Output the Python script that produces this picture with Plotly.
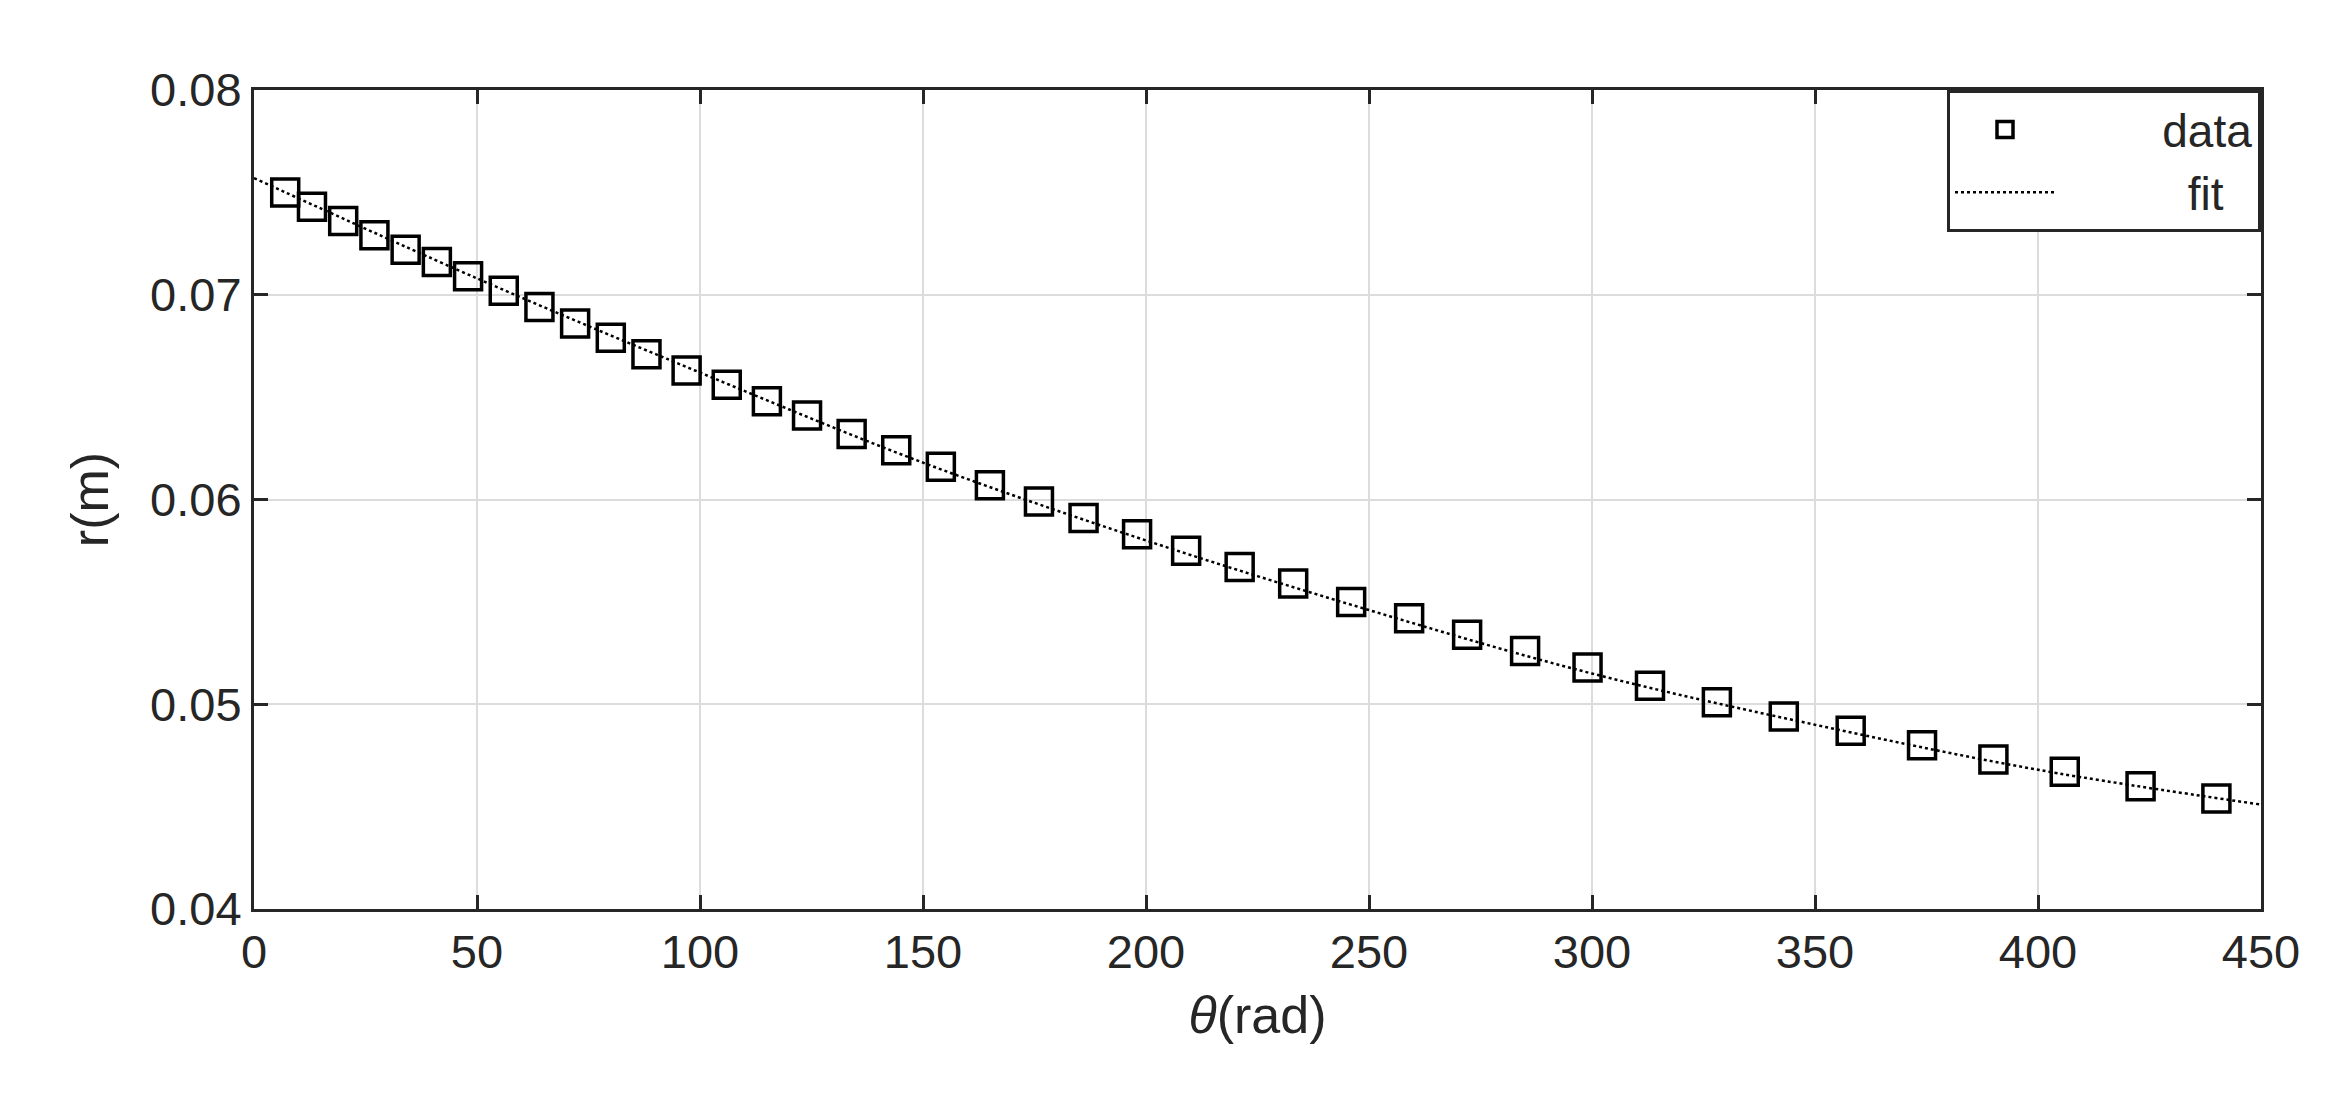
import plotly.graph_objects as go

theta = [7, 13, 20, 27, 34, 41, 48, 56, 64, 72, 80, 88, 97, 106, 115, 124, 134, 144, 154, 165,
         176, 186, 198, 209, 221, 233, 246, 259, 272, 285, 299, 313, 328, 343, 358, 374, 390, 406, 423, 440]
r = [0.0750, 0.0743, 0.0736, 0.0729, 0.0722, 0.0716, 0.0709, 0.0702, 0.0694, 0.0686,
     0.0679, 0.0671, 0.0663, 0.0656, 0.0648, 0.0641, 0.0632, 0.0624, 0.0616, 0.0607,
     0.0599, 0.0591, 0.0583, 0.0575, 0.0567, 0.0559, 0.0550, 0.0542, 0.0534, 0.0526,
     0.0518, 0.0509, 0.0501, 0.0494, 0.0487, 0.0480, 0.0473, 0.0467, 0.0460, 0.0454]

fit_theta = [0, 50, 100, 150, 200, 250, 300, 350, 400, 450]
fit_r = [0.0757, 0.0708, 0.0662, 0.0618, 0.0580, 0.0546, 0.0515, 0.0490, 0.0468, 0.0451]

fig = go.Figure()
fig.add_trace(go.Scatter(
    x=theta, y=r, mode="markers", name="        data",
    marker=dict(symbol="square-open", size=27, color="black", line=dict(width=3.5)),
))
fig.add_trace(go.Scatter(
    x=fit_theta, y=fit_r, mode="lines", name="          fit", line_shape="spline",
    line=dict(color="black", width=2.5, dash="dot"),
))

axis_common = dict(
    showline=True, linecolor="#262626", linewidth=3, mirror="ticks",
    ticks="inside", ticklen=14, tickwidth=3, tickcolor="#262626",
    showgrid=True, gridcolor="#dcdcdc", gridwidth=2, zeroline=False,
    tickfont=dict(size=47, color="#262626"),
)

fig.update_layout(
    width=2328, height=1096,
    plot_bgcolor="white", paper_bgcolor="white",
    font=dict(family="Liberation Sans, Arial", color="#262626"),
    margin=dict(l=246, r=75, t=82, b=195),
    showlegend=True,
    legend=dict(x=1, y=1, xanchor="right", yanchor="top", bgcolor="white",
                bordercolor="#262626", borderwidth=3, font=dict(size=46),
                itemwidth=100, tracegroupgap=20),
    xaxis=dict(range=[0, 450], dtick=50,
               title=dict(text="<i>θ</i>(rad)", font=dict(size=52), standoff=20), **axis_common),
    yaxis=dict(range=[0.04, 0.08], dtick=0.01, tickformat=".2f",
               title=dict(text="r(m)", font=dict(size=52), standoff=25), **axis_common),
)

fig.write_html("out.html")
